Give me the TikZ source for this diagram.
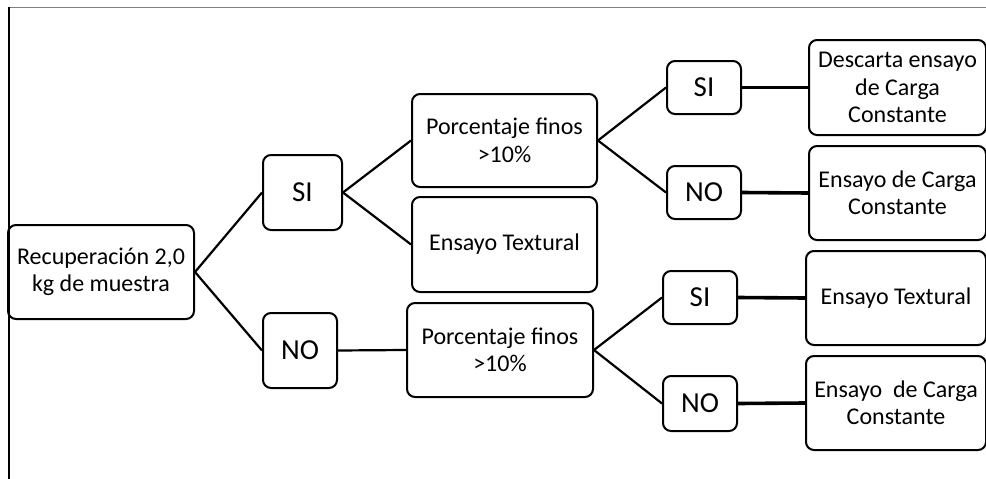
\documentclass[tikz,border=0pt]{standalone}
\usepackage{fontspec}
\setmainfont{Carlito}
\begin{document}
\begin{tikzpicture}[x=1pt,y=-1pt,
  box/.style={draw=black,line width=2pt,rounded corners=8pt,align=center,inner sep=0pt,font=\fontsize{24}{27.5}\selectfont},
  yn/.style={box,font=\fontsize{29}{32}\selectfont},
  link/.style={line width=2.2pt},
  thick link/.style={line width=3.6pt}]
\useasboundingbox (0,0) rectangle (986,479);
\draw[gray,line width=1pt] (9,7.5) -- (986,7.5);
\draw[black,line width=1.4pt] (9,7) -- (9,479);
\node[box,minimum width=186pt,minimum height=94pt] (root) at (101,272) {Recuperación 2,0\\kg de muestra};
\node[yn,minimum width=79pt,minimum height=75pt] (si1) at (302.5,192.5) {SI};
\node[yn,minimum width=74pt,minimum height=75pt] (no1) at (300,350.5) {NO};
\node[box,minimum width=185pt,minimum height=93pt] (p1) at (504.5,140.5) {Porcentaje finos\\>10\%};
\node[box,minimum width=185pt,minimum height=95pt] (et1) at (504.5,244.5) {Ensayo Textural};
\node[box,minimum width=186pt,minimum height=94pt] (p2) at (500,350) {Porcentaje finos\\>10\%};
\node[yn,minimum width=74pt,minimum height=53pt] (si2) at (704,87.5) {SI};
\node[yn,minimum width=74pt,minimum height=53pt] (no2) at (704,192.5) {NO};
\node[yn,minimum width=74pt,minimum height=53pt] (si3) at (700,297.5) {SI};
\node[yn,minimum width=74pt,minimum height=55pt] (no3) at (700,403.5) {NO};
\node[box,minimum width=177pt,minimum height=95pt] (d) at (897.5,87.5) {Descarta ensayo\\de Carga\\Constante};
\node[box,minimum width=177pt,minimum height=94pt] (c1) at (897.5,193) {Ensayo de Carga\\Constante};
\node[box,minimum width=180pt,minimum height=94pt] (t2) at (896,298) {Ensayo Textural};
\node[box,minimum width=180pt,minimum height=94pt] (c2) at (896,403) {Ensayo\ \ de Carga\\Constante};
\draw[link] (root.east) -- (si1.west);
\draw[link] (root.east) -- (no1.west);
\draw[link] (si1.east) -- (p1.west);
\draw[link] (si1.east) -- (et1.west);
\draw[link] (no1.east) -- (p2.west);
\draw[link] (p1.east) -- (si2.west);
\draw[link] (p1.east) -- (no2.west);
\draw[link] (p2.east) -- (si3.west);
\draw[link] (p2.east) -- (no3.west);
\draw[thick link] (si2.east) -- (d.west);
\draw[thick link] (no2.east) -- (c1.west);
\draw[thick link] (si3.east) -- (t2.west);
\draw[thick link] (no3.east) -- (c2.west);
\end{tikzpicture}
\end{document}
